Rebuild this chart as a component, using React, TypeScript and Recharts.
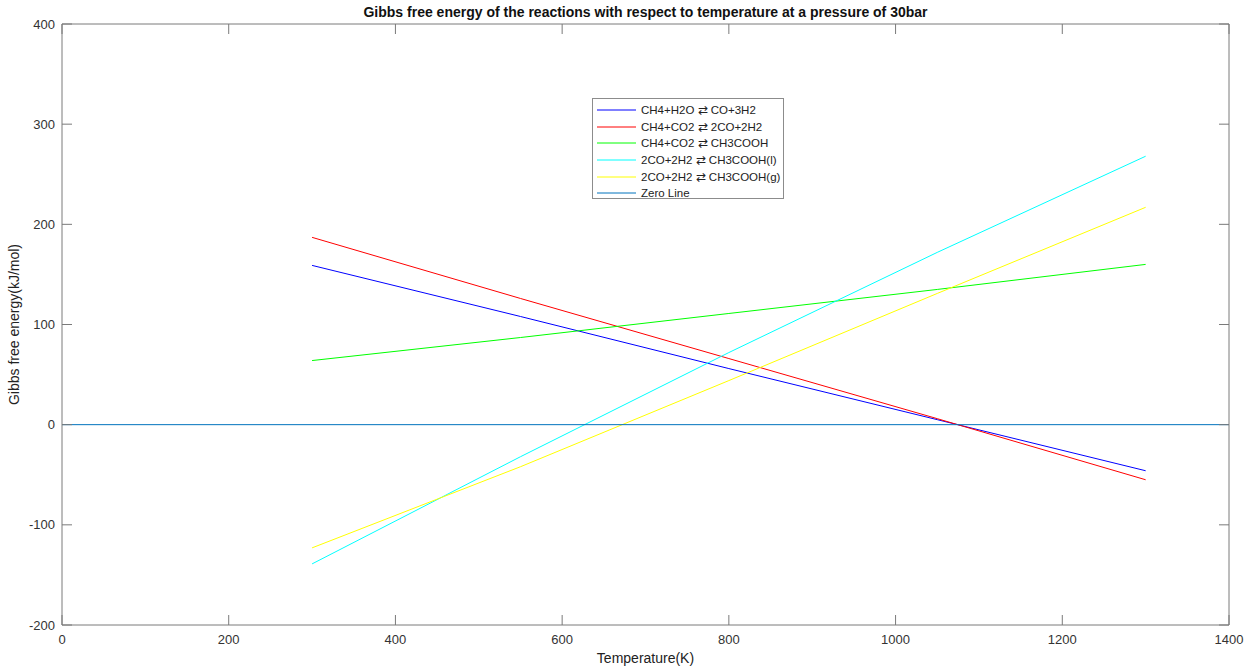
import React from 'react';
import { LineChart, Line, XAxis, YAxis, Legend, Label } from 'recharts';

// Temperature (K) at which each reaction curve was evaluated
const temperatures = [300, 550, 800, 1050, 1300];
// Gibbs free energy (kJ/mol) for each reaction
const ch4H2oToCo3H2 = [159, 108, 56, 5, -46];
const ch4Co2To2Co2H2 = [187, 126, 66, 6, -55];
const ch4Co2ToCh3cooh = [64, 87, 111, 135, 160];
const co2H2ToCh3coohL = [-139, -32, 72, 172, 268];
const co2H2ToCh3coohG = [-123, -42, 44, 131, 217];
// Zero line
const zeroTemperatures = [0, 1400];
const zeroValues = [0, 0];

const seriesNames = [
  'CH4+H2O ⇄ CO+3H2',
  'CH4+CO2 ⇄ 2CO+2H2',
  'CH4+CO2 ⇄ CH3COOH',
  '2CO+2H2 ⇄ CH3COOH(l)',
  '2CO+2H2 ⇄ CH3COOH(g)',
];
const zeroName = 'Zero Line';
const seriesColors = ['#0000FF', '#FF0000', '#00FF00', '#00FFFF', '#FFFF00'];
const zeroColor = '#0072BD';

const xTicks = [0, 200, 400, 600, 800, 1000, 1200, 1400];
const yTicks = [-200, -100, 0, 100, 200, 300, 400];

const title = 'Gibbs free energy of the reactions with respect to temperature at a pressure of 30bar';
const xLabel = 'Temperature(K)';
const yLabel = 'Gibbs free energy(kJ/mol)';

const seriesValues = [ch4H2oToCo3H2, ch4Co2To2Co2H2, ch4Co2ToCh3cooh, co2H2ToCh3coohL, co2H2ToCh3coohG];
const data = temperatures.map((T, i) => {
  const row: Record<string, number> = { T };
  seriesValues.forEach((vals, k) => {
    row['s' + k] = vals[i];
  });
  return row;
});
const zeroData = zeroTemperatures.map((T, i) => ({ T, z: zeroValues[i] }));

const FONT = '"Liberation Sans", Arial, Helvetica, sans-serif';
const AXIS = '#7a7a7a';
const TICKTXT = '#333333';

const legendItems = [
  ...seriesNames.map((n, i) => ({ name: n, color: seriesColors[i] })),
  { name: zeroName, color: zeroColor },
];

const renderLegend = () => (
  <div
    style={{
      border: '1px solid #8c8c8c',
      background: '#fff',
      width: 192,
      height: 101,
      boxSizing: 'border-box',
      padding: '3px 0 0 4px',
      fontFamily: FONT,
      fontSize: 11.5,
      color: '#222',
    }}
  >
    {legendItems.map((it) => (
      <div key={it.name} style={{ display: 'flex', alignItems: 'center', height: 16.6, whiteSpace: 'nowrap' }}>
        <svg width={39} height={4} style={{ marginRight: 5 }}>
          <line x1={0} y1={2} x2={39} y2={2} stroke={it.color} strokeWidth={1} />
        </svg>
        <span>{it.name}</span>
      </div>
    ))}
  </div>
);

const noTick = () => <g />;

export default function App() {
  return (
    <div style={{ position: 'absolute', left: 0, top: 0, width: 1251, height: 669, background: '#fff' }}>
      <LineChart
        width={1251}
        height={669}
        data={data}
        margin={{ top: 23, right: 21, bottom: 0, left: 0 }}
        style={{ fontFamily: FONT }}
      >
        <XAxis
          xAxisId="bottom"
          dataKey="T"
          type="number"
          domain={[0, 1400]}
          ticks={xTicks}
          height={44}
          stroke={AXIS}
          tickSize={-10}
          tickMargin={20}
          tick={{ fill: TICKTXT, fontSize: 13, fontFamily: FONT }}
          interval={0}
        >
          <Label
            content={(p: any) => {
              const vb = p.viewBox || {};
              return (
                <text
                  x={vb.x + vb.width / 2}
                  y={vb.y + 38}
                  textAnchor="middle"
                  fontSize={14}
                  fill="#222"
                  fontFamily={FONT}
                >
                  {xLabel}
                </text>
              );
            }}
          />
        </XAxis>
        <XAxis
          xAxisId="top"
          orientation="top"
          dataKey="T"
          type="number"
          domain={[0, 1400]}
          ticks={xTicks}
          height={1}
          stroke={AXIS}
          tickSize={-10}
          tick={noTick}
          interval={0}
        >
          <Label
            content={(p: any) => {
              const vb = p.viewBox || {};
              return (
                <text
                  x={vb.x + vb.width / 2}
                  y={17}
                  textAnchor="middle"
                  fontSize={14}
                  fontWeight="bold"
                  fill="#111"
                  fontFamily={FONT}
                >
                  {title}
                </text>
              );
            }}
          />
        </XAxis>
        <YAxis
          yAxisId="left"
          type="number"
          domain={[-200, 400]}
          ticks={yTicks}
          width={62}
          stroke={AXIS}
          tickSize={-10}
          tickMargin={17}
          tick={{ fill: TICKTXT, fontSize: 13, fontFamily: FONT }}
          interval={0}
        >
          <Label
            content={(p: any) => {
              const vb = p.viewBox || {};
              const cx = vb.x + 19;
              const cy = vb.y + vb.height / 2;
              return (
                <text
                  x={cx}
                  y={cy}
                  transform={`rotate(-90, ${cx}, ${cy})`}
                  textAnchor="middle"
                  fontSize={14}
                  fill="#222"
                  fontFamily={FONT}
                >
                  {yLabel}
                </text>
              );
            }}
          />
        </YAxis>
        <YAxis
          yAxisId="right"
          orientation="right"
          type="number"
          domain={[-200, 400]}
          ticks={yTicks}
          width={1}
          stroke={AXIS}
          tickSize={-10}
          tick={noTick}
          interval={0}
        />
        {seriesNames.map((n, k) => (
          <Line
            key={n}
            xAxisId="bottom"
            yAxisId="left"
            dataKey={'s' + k}
            name={n}
            type="linear"
            stroke={seriesColors[k]}
            strokeWidth={1}
            dot={false}
            activeDot={false}
            isAnimationActive={false}
          />
        ))}
        <Line
          xAxisId="top"
          yAxisId="right"
          data={zeroData}
          dataKey="z"
          name={zeroName}
          type="linear"
          stroke={zeroColor}
          strokeWidth={1}
          dot={false}
          activeDot={false}
          isAnimationActive={false}
        />
        <Legend
          layout="vertical"
          align="center"
          verticalAlign="middle"
          content={renderLegend}
          wrapperStyle={{ position: 'absolute', left: 592, top: 98, width: 192, height: 101 }}
        />
      </LineChart>
    </div>
  );
}
